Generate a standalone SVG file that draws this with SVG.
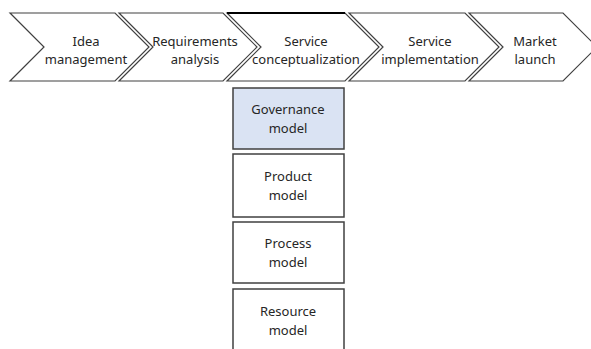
<svg xmlns="http://www.w3.org/2000/svg" width="591" height="349" viewBox="0 0 591 349">
<style>
.chev{fill:#ffffff;stroke:#404040;stroke-width:1.2}
.box{fill:#ffffff;stroke:#404040;stroke-width:1.5}
.blue{fill:#dae3f3}
text{font-family:"Noto Sans","Liberation Sans",sans-serif;font-size:13px;fill:#262626;text-anchor:middle}
</style>
<rect width="591" height="349" fill="#ffffff"/>
<g id="connectors"></g>
<g id="idea"><polygon class="chev" points="10,13 115,13 149,47 115,81 10,81 44,47"/><text x="86" y="46">Idea</text><text x="86" y="64">management</text></g>
<g id="requirements"><polygon class="chev" points="119,13 223,13 257,47 223,81 119,81 153,47"/><text x="195" y="46">Requirements</text><text x="195" y="64">analysis</text></g>
<g id="conceptualization"><polygon class="chev" points="227,13 345,13 379,47 345,81 227,81 261,47"/><line x1="227" y1="13" x2="345" y2="13" stroke="#000" stroke-width="2"/><text x="306" y="46">Service</text><text x="306" y="64">conceptualization</text></g>
<g id="implementation"><polygon class="chev" points="349,13 465,13 499,47 465,81 349,81 383,47"/><text x="430" y="46">Service</text><text x="430" y="64">implementation</text></g>
<g id="launch"><polygon class="chev" points="469,13 563,13 597,47 563,81 469,81 503,47"/><text x="535" y="46">Market</text><text x="535" y="64">launch</text></g>
<g id="governance"><rect class="box blue" x="233" y="88" width="111" height="61"/><text x="288" y="114">Governance</text><text x="288" y="133">model</text></g>
<g id="product"><rect class="box" x="233" y="154" width="111" height="63"/><text x="288" y="181">Product</text><text x="288" y="200">model</text></g>
<g id="process"><rect class="box" x="233" y="222" width="111" height="61"/><text x="288" y="248">Process</text><text x="288" y="267">model</text></g>
<g id="resource"><rect class="box" x="233" y="289" width="111" height="64"/><text x="288" y="316">Resource</text><text x="288" y="335">model</text></g>
</svg>
